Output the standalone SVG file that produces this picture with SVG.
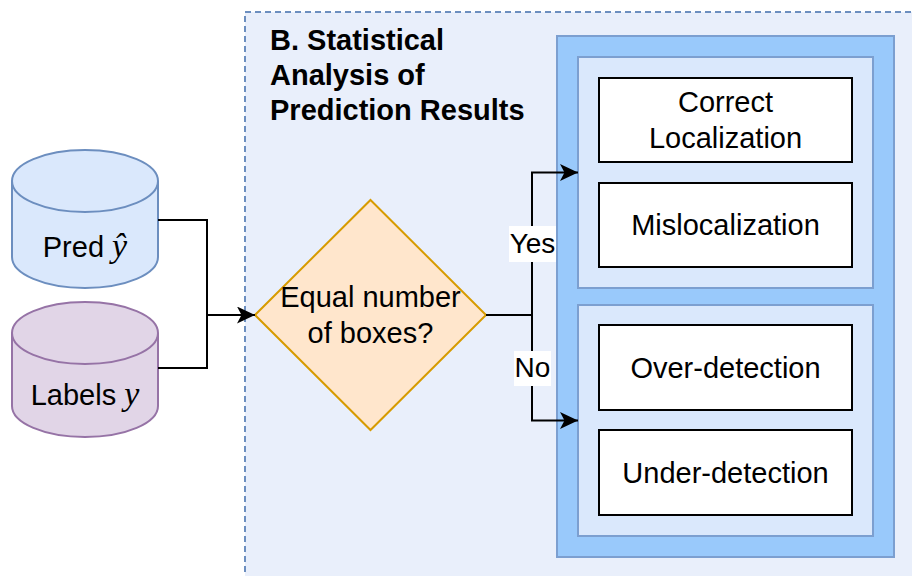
<svg xmlns="http://www.w3.org/2000/svg" width="912" height="576" viewBox="0 0 912 576">
  <style>
    .lbl { font-family: "Liberation Sans", Arial, Helvetica, sans-serif; font-size: 29px; fill: #000; text-anchor: middle; }
    .title { font-family: "Liberation Sans", Arial, Helvetica, sans-serif; font-size: 29px; font-weight: bold; fill: #000; }
    .math { font-family: "Liberation Serif", "DejaVu Serif", serif; font-style: italic; font-size: 34px; }
    .edge { fill: none; stroke: #000; stroke-width: 2; }
    .box { fill: #fff; stroke: #000; stroke-width: 2; }
    .group { fill: #dae8fc; stroke: #7c9fd0; stroke-width: 2; }
    .edge-lbl { fill: #fff; }
    .edge-txt { font-size: 28px; }
  </style>
  <defs>
    <marker id="arrow" markerUnits="userSpaceOnUse" markerWidth="18" markerHeight="17" refX="18" refY="8.5" orient="auto" viewBox="0 0 18 17">
      <path d="M0,0 L18,8.5 L0,17 L4.5,8.5 Z" fill="#000"/>
    </marker>
  </defs>

  <rect width="912" height="576" fill="#fff"/>

  <!-- section B container -->
  <g id="section-b">
    <rect x="245" y="12" width="720" height="620" fill="#e9effb" stroke="#6c8ebf" stroke-width="2" stroke-dasharray="6 4"/>
    <text class="title" x="270" y="50">B. Statistical</text>
    <text class="title" x="270" y="85">Analysis of</text>
    <text class="title" x="270" y="120">Prediction Results</text>
  </g>

  <!-- result categories -->
  <g id="results">
    <rect x="557" y="36" width="337" height="521" fill="#99c9fb" stroke="#7c9fd0" stroke-width="2"/>
  </g>
  <g id="equal-group">
    <rect class="group" x="578" y="57" width="295" height="231"/>
  </g>
  <g id="unequal-group">
    <rect class="group" x="578" y="305" width="295" height="231"/>
  </g>
  <g id="correct-localization">
    <rect class="box" x="599" y="78" width="253" height="84"/>
    <text class="lbl" x="725.5" y="112">Correct</text>
    <text class="lbl" x="725.5" y="148">Localization</text>
  </g>
  <g id="mislocalization">
    <rect class="box" x="599" y="183" width="253" height="84"/>
    <text class="lbl" x="725.5" y="235">Mislocalization</text>
  </g>
  <g id="over-detection">
    <rect class="box" x="599" y="325" width="253" height="85"/>
    <text class="lbl" x="725.5" y="378">Over-detection</text>
  </g>
  <g id="under-detection">
    <rect class="box" x="599" y="430" width="253" height="85"/>
    <text class="lbl" x="725.5" y="483">Under-detection</text>
  </g>

  <!-- inputs -->
  <g id="pred">
    <path d="M12,181 A73,31 0 0 1 158,181 V257 A73,31 0 0 1 12,257 Z" fill="#dae8fc" stroke="#6c8ebf" stroke-width="2"/>
    <path d="M12,181 A73,31 0 0 0 158,181" fill="none" stroke="#6c8ebf" stroke-width="2"/>
    <text class="lbl" x="85" y="257">Pred <tspan class="math">ŷ</tspan></text>
  </g>
  <g id="labels">
    <path d="M12,333 A73,31 0 0 1 158,333 V406 A73,31 0 0 1 12,406 Z" fill="#e1d5e7" stroke="#9673a6" stroke-width="2"/>
    <path d="M12,333 A73,31 0 0 0 158,333" fill="none" stroke="#9673a6" stroke-width="2"/>
    <text class="lbl" x="85" y="405">Labels <tspan class="math">y</tspan></text>
  </g>

  <!-- decision -->
  <g id="decision">
    <polygon points="370.5,200 486,315 370.5,430 255,315" fill="#ffe6cc" stroke="#d79b00" stroke-width="2"/>
    <text class="lbl" x="370.5" y="307">Equal number</text>
    <text class="lbl" x="370.5" y="343">of boxes?</text>
  </g>

  <!-- connectors -->
  <g id="connectors">
    <path class="edge" d="M158,220 H207 V315 H255" marker-end="url(#arrow)"/>
    <path class="edge" d="M158,368 H207 V315"/>
    <path class="edge" d="M486,315 H532 V172.5 H578" marker-end="url(#arrow)"/>
    <path class="edge" d="M532,315 V420.5 H578" marker-end="url(#arrow)"/>
    <rect class="edge-lbl" x="509" y="226" width="47" height="36"/>
    <text class="lbl edge-txt" x="532.5" y="253">Yes</text>
    <rect class="edge-lbl" x="514" y="351" width="37" height="35"/>
    <text class="lbl edge-txt" x="532.5" y="377">No</text>
  </g>
</svg>
